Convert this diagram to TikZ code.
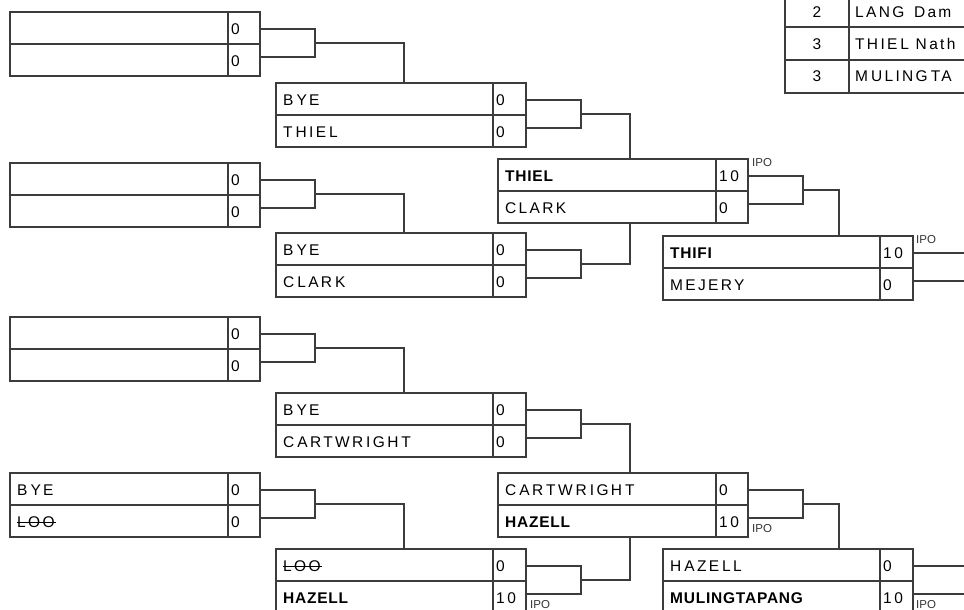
\documentclass[tikz,border=0pt]{standalone}
\usepackage{fontspec}
\setmainfont{Liberation Sans}
\newfontfamily\spc[LetterSpace=15]{Liberation Sans}
\newfontfamily\bspc[LetterSpace=5]{Liberation Sans}
\usetikzlibrary{calc}
\definecolor{linec}{RGB}{60,60,60}
\newsavebox\strkbox
\newcommand\strk[1]{\sbox\strkbox{#1}\rlap{\raisebox{5pt}{\rule{\dimexpr\wd\strkbox+1pt\relax}{0.9pt}}}\usebox\strkbox}
\newcommand\gp{\kern3pt}
\tikzset{
 cell/.style={draw=linec, line width=1.1pt, minimum height=32pt, inner sep=0pt, outer sep=0pt, anchor=north west},
 conn/.style={draw=linec, line width=1.1pt},
 nm/.style={anchor=west, inner sep=0pt, font=\spc\fontsize{15.5}{17}\selectfont, text=black},
 ipo/.style={anchor=west, inner sep=0pt, font=\fontsize{11.5}{12}\selectfont, text=black!80},
 tab/.style={draw=linec, line width=1.1pt},
}
% #1 id, #2 left, #3 top, #4 divider, #5 right, #6 top name, #7 top score, #8 bottom name, #9 bottom score
\newcommand\blk[9]{%
 \pgfmathsetmacro\wn{#4-#2}%
 \pgfmathsetmacro\ws{#5-#4}%
 \node[cell, minimum width=\wn pt] (#1n1) at (#2,#3) {};
 \node[cell, minimum width=\wn pt] (#1n2) at (#2,#3+32) {};
 \node[cell, minimum width=\ws pt] (#1s1) at (#4,#3) {};
 \node[cell, minimum width=\ws pt] (#1s2) at (#4,#3+32) {};
 \node[nm] (#1t1) at ([xshift=7pt,yshift=-1.5pt]#1n1.west) {#6};
 \node[nm] (#1t2) at ([xshift=7pt,yshift=-1.5pt]#1n2.west) {#8};
 \node[nm] (#1p1) at ([xshift=3pt,yshift=-1.5pt]#1s1.west) {#7};
 \node[nm] (#1p2) at ([xshift=3pt,yshift=-1.5pt]#1s2.west) {#9};
 \coordinate (#1o1) at (#5,#3+17);
 \coordinate (#1o2) at (#5,#3+45);
}
\newcommand\bld[1]{{\bspc\bfseries #1}}
\newcommand\ten{1\kern2.5pt0}
\begin{document}
\begin{tikzpicture}[x=1pt,y=-1pt]
\useasboundingbox (0,0) rectangle (964,610);
\clip (0,0) rectangle (964,610);

% round 1
\blk{Aa}{10}{12}{228}{260}{}{0}{}{0}
\blk{Ab}{10}{163}{228}{260}{}{0}{}{0}
\blk{Ac}{10}{317}{228}{260}{}{0}{}{0}
\blk{Ad}{10}{473}{228}{260}{B\gp YE}{0}{\strk{LOO}}{0}
% round 2
\blk{Ba}{276}{83}{493}{526}{B\gp YE}{0}{T\gp HIE\gp L}{0}
\blk{Bb}{276}{233}{493}{526}{B\gp YE}{0}{C\gp LAR\gp K}{0}
\blk{Bc}{276}{393}{493}{526}{B\gp YE}{0}{C\gp ARTWR\gp IGH\gp T}{0}
\blk{Bd}{276}{549}{493}{526}{\strk{LOO}}{0}{\bld{HAZELL}}{\ten}
% round 3
\blk{Ca}{498}{159}{716}{748}{\bld{THIEL}}{\ten}{CLARK}{0}
\blk{Cb}{498}{473}{716}{748}{C\gp AR\gp TW\gp R\gp IGH\gp T}{0}{\bld{HAZELL}}{\ten}
% round 4
\blk{Da}{663}{236}{880}{913}{\bld{THIFI}}{\ten}{MEJERY}{0}
\blk{Db}{663}{549}{880}{913}{H\gp AZE\gp LL}{0}{\bld{MULINGTAPANG}}{\ten}

% IPO marks
\node[ipo] (ipoCa) at (752,163) {IPO};
\node[ipo] (ipoDa) at (916,240) {IPO};
\node[ipo] (ipoCb) at (752,529) {IPO};
\node[ipo] (ipoBd) at (530,605) {IPO};
\node[ipo] (ipoDb) at (916,605) {IPO};

% entry points
\coordinate (BaIn) at (404,83);
\coordinate (BbIn) at (404,233);
\coordinate (BcIn) at (404,393);
\coordinate (BdIn) at (404,549);
\coordinate (CaIn) at (630,159);
\coordinate (CaOut) at (630,223);
\coordinate (CbIn) at (630,473);
\coordinate (CbOut) at (630,537);
\coordinate (DaIn) at (839,236);
\coordinate (DbIn) at (839,549);
\coordinate (DaE1) at (975,253);
\coordinate (DaE2) at (975,281);
\coordinate (DbE1) at (975,566);
\coordinate (DbE2) at (975,594);

% brackets
\foreach \b in {Aa,Ab,Ac,Ad,Ba,Bb,Bc,Bd,Ca,Cb}{
 \draw[conn] (\b o1) -- ++(55,0) |- (\b o2);
 \coordinate (\b m) at ($(\b o1)!0.5!(\b o2)+(55,0)$);
}
\draw[conn] (Aam) -| (BaIn);
\draw[conn] (Abm) -| (BbIn);
\draw[conn] (Acm) -| (BcIn);
\draw[conn] (Adm) -| (BdIn);
\draw[conn] (Bam) -| (CaIn);
\draw[conn] (CaOut) |- (Bbm);
\draw[conn] (Bcm) -| (CbIn);
\draw[conn] (CbOut) |- (Bdm);
\draw[conn] (Cam) -| (DaIn);
\draw[conn] (Cbm) -| (DbIn);
\draw[conn] (Dao1) -- (DaE1);
\draw[conn] (Dao2) -- (DaE2);
\draw[conn] (Dbo1) -- (DbE1);
\draw[conn] (Dbo2) -- (DbE2);

% standings table
\draw[tab] (849,-5) -- (849,93);
\draw[tab] (785,27) -- (975,27);
\draw[tab] (785,60) -- (975,60);
\draw[tab, line width=2pt] (785,-5) -- (785,93) -- (975,93);
\node[nm, anchor=center] (r1) at (817,12) {2};
\node[nm, anchor=center] (r2) at (817,44) {3};
\node[nm, anchor=center] (r3) at (817,76) {3};
\node[nm] (n1) at (855,12) {LANG\gp\ Dam};
\node[nm] (n2) at (855,44) {THIE\gp L Nath};
\node[nm] (n3) at (855,76) {M\gp ULING\gp TA};
\end{tikzpicture}
\end{document}
